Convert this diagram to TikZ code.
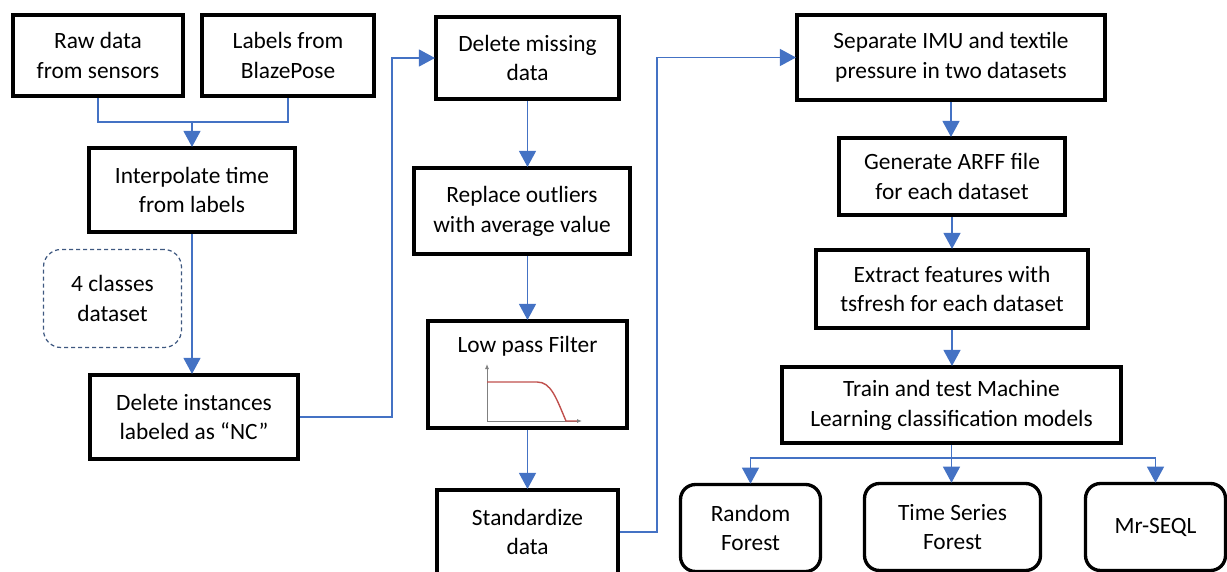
\documentclass[tikz,border=0pt]{standalone}
\usepackage{fontspec}
\setmainfont{Carlito}
\usetikzlibrary{arrows.meta,positioning,calc}
\definecolor{cflow}{RGB}{68,114,196}
\definecolor{cnote}{RGB}{62,88,128}
\definecolor{cfilt}{RGB}{192,80,77}

\begin{document}
\begin{tikzpicture}[
  font=\fontsize{13.3}{17}\selectfont,>=Latex,
  box/.style={draw,line width=2.2pt,align=center,inner sep=2pt},
  model/.style={draw,line width=1.9pt,rounded corners=0.3cm,align=center,minimum width=2.8cm,minimum height=1.74cm},
  note/.style={draw=cnote,dashed,dash pattern=on 0.8mm off 0.6mm,line width=0.7pt,rounded corners=0.35cm,align=center},
  line/.style={draw=cflow,line width=0.7pt},
  link/.style={line,-{Triangle[width=3.4mm,length=3.2mm]},shorten >=-0.5pt},
  axis/.style={draw=gray,line width=0.5pt,-{Latex[length=1mm,width=0.8mm]}}
]
\useasboundingbox (0,0) rectangle (24.54,-11.44);

% ---- acquisition ----
\node[box,minimum width=3.40cm,minimum height=1.62cm] (raw) at (1.96,-1.11) {Raw data\\from sensors};
\node[box,minimum width=3.44cm,minimum height=1.62cm] (blaze) at (5.76,-1.11) {Labels from\\BlazePose};
\node[box,minimum width=4.12cm,minimum height=1.68cm] (interp) at (3.84,-3.80) {Interpolate time\\from labels};
\node[note,minimum width=2.76cm,minimum height=1.96cm] (classes) at (2.25,-5.97) {4 classes\\dataset};
\node[box,minimum width=4.16cm,minimum height=1.68cm] (delinst) at (3.88,-8.34) {Delete instances\\labeled as “NC”};

% ---- cleaning ----
\node[box,minimum width=3.66cm,minimum height=1.64cm] (delmiss) at (10.55,-1.16) {Delete missing\\data};
\node[box,minimum width=4.32cm,minimum height=1.72cm] (replace) at (10.44,-4.22) {Replace outliers\\with average value};
\node[box,minimum width=3.98cm,minimum height=2.14cm] (lpf) at (10.55,-7.49) {};
\node (lpftitle) at (10.55,-6.92) {Low pass Filter};
\node[box,minimum width=3.62cm,minimum height=1.68cm] (stand) at (10.55,-10.64) {Standardize\\data};

% ---- learning ----
\node[box,minimum width=6.16cm,minimum height=1.70cm] (sep) at (19.02,-1.15) {Separate IMU and textile\\pressure in two datasets};
\node[box,minimum width=4.52cm,minimum height=1.54cm] (arff) at (19.04,-3.53) {Generate ARFF file\\for each dataset};
\node[box,minimum width=5.44cm,minimum height=1.56cm] (extract) at (19.04,-5.78) {Extract features with\\tsfresh for each dataset};
\node[box,minimum width=6.78cm,minimum height=1.52cm] (train) at (19.03,-8.10) {Train and test Machine\\Learning classification models};
\node[model] (rf) at (15.01,-10.56) {Random\\Forest};
\node[model,minimum width=3.52cm] (tsf) at (19.05,-10.54) {Time Series\\Forest};
\node[model] (mr) at (23.11,-10.54) {Mr-SEQL};

% ---- filter sketch ----
\draw[axis] (9.74,-8.42) -- (9.74,-7.28);
\draw[axis] (9.74,-8.42) -- (11.64,-8.42);
\draw[cfilt,line width=0.8pt] (9.74,-7.64) -- (10.74,-7.64)
  .. controls (11.02,-7.64) and (11.12,-7.95) .. (11.32,-8.42) -- (11.54,-8.42);

% ---- connectors ----
\coordinate (merge) at ($(interp.north)+(0,0.48)$);
\draw[line] (raw.south) |- (merge) -| (blaze.south);
\draw[link] (merge) -- (interp.north);
\draw[link] (interp.south) -- (interp.south |- delinst.north);
\draw[link] (delinst.east) -- ++(1.84,0) |- (delmiss.west);
\draw[link] (delmiss.south) -- (delmiss.south |- replace.north);
\draw[link] (delmiss.south |- replace.south) -- (lpf.north);
\draw[link] (lpf.south) -- (stand.north);
\draw[link] (stand.east) -- ++(0.74,0) |- (sep.west);
\draw[link] (sep.south) -- (sep.south |- arff.north);
\draw[link] (arff.south) -- (extract.north);
\draw[link] (extract.south) -- (extract.south |- train.north);
\coordinate (split) at ($(train.south)+(0,-0.26)$);
\draw[line] (train.south) -- (split);
\draw[link] (split) -| (rf.north);
\draw[link] (split) -- (split |- tsf.north);
\draw[link] (split) -| (mr.north);
\end{tikzpicture}
\end{document}
